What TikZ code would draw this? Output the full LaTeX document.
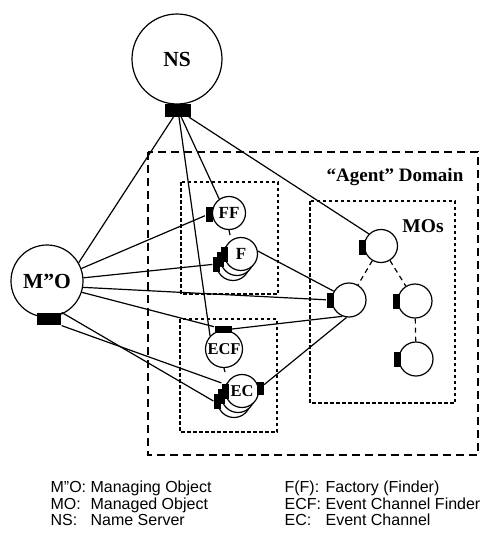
\documentclass[tikz,border=0pt]{standalone}
\usepackage{fontspec}
\setmainfont{Liberation Serif}
\newfontfamily\legfont{Liberation Sans}
\begin{document}
\begin{tikzpicture}[x=1pt,y=-1pt, line width=1.2pt,
  circ/.style={circle, draw, fill=white, inner sep=0pt, minimum size=#1},
  portbox/.style={rectangle, fill=black, draw=none, inner sep=0pt},
  vport/.style={portbox, minimum width=7pt, minimum height=15pt},
  bigbox/.style={line width=1.5pt, dash pattern=on 8pt off 5pt},
  smallbox/.style={line width=1.3pt, dash pattern=on 3.5pt off 2.5pt},
  modash/.style={dash pattern=on 5pt off 4pt},
  lbl/.style={font=\bfseries\fontsize{#1}{#1}\selectfont},
  leg/.style={anchor=base west, inner sep=0pt, font=\legfont\fontsize{16}{16}\selectfont}
]
\useasboundingbox (0,0) rectangle (484,536);

% dashed boxes
\draw[bigbox] (148,152) rectangle (478,455);
\draw[smallbox] (181,182) rectangle (278,294);
\draw[smallbox] (180,319) rectangle (277,432);
\draw[smallbox] (310,201) rectangle (455,403);
\node[lbl=19] (agent) at (395,177) {“Agent” Domain};
\node[lbl=19.5] (mos) at (423,226) {MOs};

% Name server
\node[circ=90pt, lbl=21.5] (NS) at (177,59) {NS};
\node[portbox, minimum width=26pt, minimum height=13pt] (nsp) at (178,110) {};

% Managing object
\node[circ=72pt, lbl=21.5] (MxO) at (47,281) {M”O};
\node[portbox, minimum width=24pt, minimum height=12pt] (mop) at (49,319) {};

% Factory finder
\node[circ=33pt, lbl=17] (FF) at (229,213) {FF};
\node[vport] (ffp) at (209,214) {};

% Factories
\node[circ=33pt] (F3) at (233,264) {};
\node[circ=33pt] (F2) at (237,259) {};
\node[circ=33pt, lbl=17] (F) at (241,254) {F};
\node[vport] (fp3) at (216.5,264) {};
\node[vport] (fp2) at (220.5,259) {};
\node[vport] (fp1) at (224.5,254) {};

% Event channel finder
\node[circ=37pt, lbl=16.5] (ECF) at (224,349) {ECF};
\node[portbox, minimum width=17pt, minimum height=7pt] (ecfp) at (223,329) {};

% Event channels
\node[circ=33pt] (EC3) at (234,401) {};
\node[circ=33pt] (EC2) at (238,396) {};
\node[circ=33pt, lbl=16.5] (EC) at (242,391) {EC};
\node[vport] (ecp3) at (217.5,401) {};
\node[vport] (ecp2) at (221.5,396) {};
\node[vport] (ecp1) at (225.5,391) {};
\node[portbox, minimum width=7pt, minimum height=13pt] (ecr) at (260,388) {};

% Managed objects
\node[circ=33pt] (mo1) at (381,246) {};
\node[vport] (mo1p) at (362,247) {};
\node[circ=34pt] (mo2) at (349,300) {};
\node[vport] (mo2p) at (330,300) {};
\node[circ=34pt] (mo3) at (415,301) {};
\node[vport] (mo3p) at (396,301) {};
\node[circ=34pt] (mo4) at (416,359) {};
\node[vport] (mo4p) at (397,359) {};

% connectors from NS
\draw (nsp) -- (MxO.30);
\draw (nsp) -- (ECF.137);
\draw (nsp) -- (FF.125);
\draw (nsp) -- (mo1.135);

% connectors from M"O
\draw (MxO.20) -- (ffp);
\draw (MxO.5) -- (fp3);
\draw (MxO.-10) -- (mo2p);
\draw (MxO.-18) -- (ecfp);
\draw (mop.north east) -- (ecp3.west);
\draw (mop.south east) -- (ecp1.north west);

% connectors to MO
\draw (F.10) -- (mo2.150);
\draw (ecfp.east) -- (mo2.248);
\draw (ecr) -- (mo2.262);

% MO hierarchy
\draw[modash] (mo1) -- (mo2);
\draw[modash] (mo1) -- (mo3);
\draw[modash] (mo3) -- (mo4);

% short stubs
\coordinate (ffstub) at (230,235);
\draw (FF.south) -- (ffstub);
\coordinate (ecfstub) at (225,372);
\draw (ECF.south) -- (ecfstub);

% legend
\node[leg] (l1a) at (50,492) {M”O:};
\node[leg] (l1b) at (90,492) {Managing Object};
\node[leg] (l2a) at (50,509) {MO:};
\node[leg] (l2b) at (90,509) {Managed Object};
\node[leg] (l3a) at (50,525) {NS:};
\node[leg] (l3b) at (90,525) {Name Server};
\node[leg] (r1a) at (284,492) {F(F):};
\node[leg] (r1b) at (325,492) {Factory (Finder)};
\node[leg] (r2a) at (284,509) {ECF:};
\node[leg] (r2b) at (325,509) {Event Channel Finder};
\node[leg] (r3a) at (284,525) {EC:};
\node[leg] (r3b) at (325,525) {Event Channel};
\end{tikzpicture}
\end{document}
